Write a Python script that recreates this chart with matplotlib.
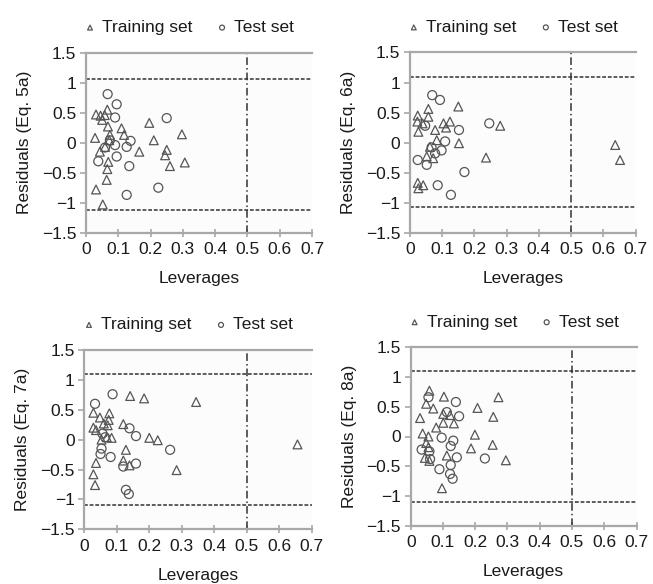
import matplotlib
matplotlib.use("Agg")
import matplotlib.pyplot as plt

plt.rcParams['font.family'] = ['Liberation Sans', 'DejaVu Sans']

# ---- data -------------------------------------------------------------
p1_train_x = [0.031, 0.045, 0.058, 0.066, 0.050, 0.068, 0.028, 0.074, 0.072, 0.110, 0.118, 0.196, 0.210, 0.297,
              0.165, 0.250, 0.245, 0.260, 0.306, 0.043, 0.069, 0.066, 0.064, 0.031, 0.052, 0.059]
p1_train_y = [0.47, 0.45, 0.46, 0.55, 0.38, 0.27, 0.08, 0.13, 0.04, 0.24, 0.13, 0.33, 0.04, 0.14,
              -0.15, -0.12, -0.21, -0.39, -0.33, -0.15, -0.32, -0.44, -0.62, -0.78, -1.03, -0.07]
p1_test_x = [0.067, 0.095, 0.090, 0.250, 0.138, 0.126, 0.090, 0.059, 0.095, 0.038, 0.134, 0.224, 0.126, 0.074]
p1_test_y = [0.81, 0.64, 0.42, 0.41, 0.03, -0.07, -0.04, -0.08, -0.23, -0.31, -0.39, -0.75, -0.87, 0.04]

p2_train_x = [0.024, 0.023, 0.026, 0.039, 0.057, 0.057, 0.078, 0.104, 0.112, 0.124, 0.150, 0.152, 0.280, 0.236,
              0.083, 0.062, 0.072, 0.052, 0.024, 0.026, 0.041, 0.637, 0.652]
p2_train_y = [0.45, 0.35, 0.18, 0.32, 0.56, 0.43, 0.21, 0.32, 0.25, 0.35, 0.60, -0.01, 0.28, -0.25,
              0.04, -0.07, -0.26, -0.23, -0.67, -0.76, -0.71, -0.04, -0.29]
p2_test_x = [0.069, 0.093, 0.047, 0.246, 0.152, 0.109, 0.098, 0.067, 0.024, 0.052, 0.169, 0.086, 0.127, 0.078]
p2_test_y = [0.79, 0.71, 0.28, 0.32, 0.21, 0.02, -0.13, -0.08, -0.29, -0.37, -0.49, -0.71, -0.87, -0.18]

p3_train_x = [0.028, 0.028, 0.036, 0.048, 0.060, 0.075, 0.077, 0.072, 0.084, 0.069, 0.053, 0.141, 0.184, 0.120,
              0.128, 0.200, 0.226, 0.344, 0.284, 0.036, 0.028, 0.033, 0.120, 0.139, 0.656]
p3_train_y = [0.45, 0.20, 0.16, 0.37, 0.27, 0.33, 0.44, 0.24, 0.03, 0.04, 0.00, 0.73, 0.69, 0.26,
              -0.17, 0.03, -0.01, 0.63, -0.51, -0.39, -0.58, -0.76, -0.35, -0.43, -0.08]
p3_test_x = [0.033, 0.087, 0.053, 0.050, 0.056, 0.064, 0.081, 0.139, 0.159, 0.264, 0.120, 0.159, 0.128, 0.137]
p3_test_y = [0.60, 0.76, -0.15, -0.24, 0.10, 0.04, -0.29, 0.19, 0.06, -0.17, -0.45, -0.40, -0.84, -0.91]

p4_train_x = [0.029, 0.058, 0.048, 0.070, 0.103, 0.079, 0.101, 0.101, 0.134, 0.122, 0.037, 0.055, 0.048, 0.055,
              0.044, 0.058, 0.112, 0.097, 0.199, 0.207, 0.256, 0.272, 0.187, 0.254, 0.295]
p4_train_y = [0.31, 0.77, 0.55, 0.47, 0.67, 0.15, 0.38, 0.23, 0.22, 0.36, 0.05, 0.00, -0.11, -0.18,
              -0.36, -0.41, -0.32, -0.87, 0.03, 0.48, 0.33, 0.66, -0.20, -0.14, -0.40]
p4_test_x = [0.055, 0.140, 0.150, 0.112, 0.096, 0.132, 0.124, 0.143, 0.034, 0.058, 0.060, 0.230, 0.124, 0.089, 0.122, 0.130]
p4_test_y = [0.66, 0.58, 0.34, 0.41, -0.02, -0.07, -0.16, -0.35, -0.22, -0.25, -0.38, -0.37, -0.48, -0.55, -0.63, -0.71]

ylabels = ["Residuals (Eq. 5a)", "Residuals (Eq. 6a)", "Residuals (Eq. 7a)", "Residuals (Eq. 8a)"]
warn_upper = [1.06, 1.10, 1.10, 1.10]
warn_lower = [-1.12, -1.08, -1.10, -1.10]
h_star = 0.5
xticks = [0, 0.1, 0.2, 0.3, 0.4, 0.5, 0.6, 0.7]
xticklabels = ["0", "0.1", "0.2", "0.3", "0.4", "0.5", "0.6", "0.7"]
yticks = [-1.5, -1, -0.5, 0, 0.5, 1, 1.5]
yticklabels = ["\u22121.5", "\u22121", "\u22120.5", "0", "0.5", "1", "1.5"]

panels = [
    (p1_train_x, p1_train_y, p1_test_x, p1_test_y),
    (p2_train_x, p2_train_y, p2_test_x, p2_test_y),
    (p3_train_x, p3_train_y, p3_test_x, p3_test_y),
    (p4_train_x, p4_train_y, p4_test_x, p4_test_y),
]

# ---- layout (pixels) ----------------------------------------------------
W, H = 653, 584
boxes = [(86, 52.7, 312, 232.7), (410, 52.5, 635.5, 232.7),
         (84.3, 350, 311.8, 529.3), (410.7, 347.3, 636.5, 525.7)]

fig = plt.figure(figsize=(W / 100, H / 100), dpi=100)
spine_col = "#a8a8a8"
mk_col = "#555555"
txt_col = "#1a1a1a"

for i, (bx, data) in enumerate(zip(boxes, panels)):
    l, t, r, b = bx
    ax = fig.add_axes([l / W, 1 - b / H, (r - l) / W, (b - t) / H])
    ax.set_facecolor("#fcfcfc")
    trx, tr_y, tex, tey = data
    ax.scatter(trx, tr_y, marker="^", s=40, facecolors="none", edgecolors=mk_col,
               linewidths=0.9, zorder=3, label="Training set")
    ax.scatter(tex, tey, marker="o", s=42, facecolors="none", edgecolors=mk_col,
               linewidths=0.9, zorder=3, label="Test set")
    ax.axhline(warn_upper[i], color="#333333", ls=(0, (2.5, 1.2)), lw=1.1, zorder=2)
    ax.axhline(warn_lower[i], color="#333333", ls=(0, (2.5, 1.2)), lw=1.1, zorder=2)
    ax.axvline(h_star, color="#333333", ls=(0, (5, 2, 1, 2)), lw=1.1, zorder=2)
    ax.set_xlim(0, 0.7)
    ax.set_ylim(-1.5, 1.5)
    ax.set_xticks(xticks)
    ax.set_xticklabels(xticklabels)
    ax.set_yticks(yticks)
    ax.set_yticklabels(yticklabels)
    for s in ["left", "bottom", "top"]:
        ax.spines[s].set_color(spine_col)
        ax.spines[s].set_linewidth(1.6)
    ax.spines["right"].set_visible(False)
    ax.tick_params(axis="both", colors=spine_col, labelcolor=txt_col, labelsize=12.5,
                   length=4, width=1.2, pad=3)
    ax.tick_params(axis="x", direction="inout", length=6, pad=4)
    ax.set_xlabel("Leverages", fontsize=12.5, color=txt_col, labelpad=10)
    ax.set_ylabel(ylabels[i], fontsize=12.5, color=txt_col, labelpad=7)
    ax.legend(loc="lower center", bbox_to_anchor=(0.45, 1.03), ncol=2, frameon=False,
              fontsize=12.5, handletextpad=0.2, columnspacing=1.2, markerscale=0.55,
              handlelength=1.0, borderpad=0.2, labelcolor=txt_col)

fig.savefig("out.png", dpi=100)
